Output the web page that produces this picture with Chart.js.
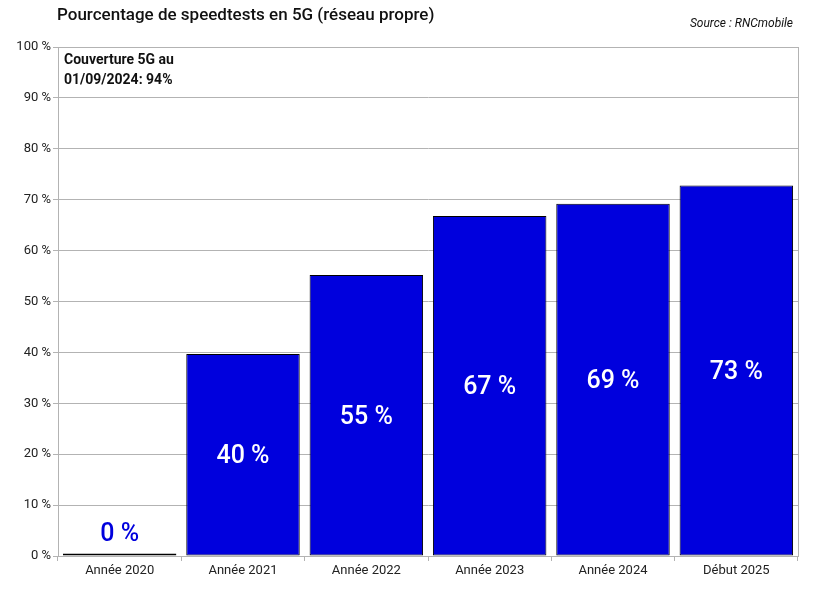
<!DOCTYPE html>
<html>
<head>
<meta charset="utf-8">
<script src="https://cdn.jsdelivr.net/npm/chart.js@4"></script>
<style>
  html, body { margin: 0; padding: 0; background: #fff; }
  #wrap { width: 820px; height: 610px; position: relative; }
</style>
</head>
<body>
<div id="wrap"><canvas id="chart" width="820" height="610"></canvas></div>
<script>
// données
var categories = ['Année 2020', 'Année 2021', 'Année 2022', 'Année 2023', 'Année 2024', 'Début 2025'];
var valeurs = [0.5, 39.7, 55.2, 66.8, 69.2, 72.8];
var etiquettes = ['0 %', '40 %', '55 %', '67 %', '69 %', '73 %'];
var titre = 'Pourcentage de speedtests en 5G (réseau propre)';
var source = 'Source : RNCmobile';
var note = ['Couverture 5G au', '01/09/2024: 94%'];

var bleu = '#0000dd';

// textes, cadre et étiquettes
var decor = {
    id: 'decor',
    beforeDatasetsDraw: function(chart) {
        var ctx = chart.ctx, a = chart.chartArea;
        ctx.save();
        ctx.strokeStyle = '#b3b3b3';
        ctx.lineWidth = 1;
        ctx.strokeRect(a.left + 0.5, a.top + 0.5, a.right - a.left, a.bottom - a.top);
        ctx.restore();
    },
    afterDraw: function(chart) {
        var ctx = chart.ctx, a = chart.chartArea;
        ctx.save();
        ctx.fillStyle = '#111';
        ctx.textBaseline = 'middle';
        ctx.textAlign = 'left';
        ctx.font = '500 17px Roboto';
        ctx.fillText(titre, 57, 16);
        ctx.font = 'italic 12px Roboto';
        ctx.textAlign = 'right';
        ctx.fillText(source, 793, 24);
        ctx.textAlign = 'left';
        ctx.font = 'bold 14px Roboto';
        ctx.fillText(note[0], a.left + 6, 60);
        ctx.fillText(note[1], a.left + 6, 80);

        var meta = chart.getDatasetMeta(0);
        ctx.font = '500 25px Roboto';
        ctx.textAlign = 'center';
        meta.data.forEach(function(bar, i) {
            var y;
            if (valeurs[i] < 5) {
                ctx.fillStyle = bleu;
                y = bar.y - 19;
            } else {
                ctx.fillStyle = '#fff';
                y = (bar.y + bar.base) / 2 + 2;
            }
            ctx.fillText(etiquettes[i], bar.x, y);
        });
        ctx.restore();
    }
};

new Chart(document.getElementById('chart'), {
    type: 'bar',
    data: {
        labels: categories,
        datasets: [{
            data: valeurs,
            backgroundColor: bleu,
            borderColor: '#000',
            borderWidth: 1,
            borderSkipped: false,
            barPercentage: 0.92,
            categoryPercentage: 1
        }]
    },
    options: {
        responsive: false,
        animation: false,
        devicePixelRatio: 1,
        layout: { padding: { left: 0, right: 22, top: 47, bottom: 0 } },
        plugins: {
            legend: { display: false },
            tooltip: { enabled: false }
        },
        scales: {
            x: {
                grid: { offset: true, drawOnChartArea: false, color: '#b3b3b3', tickLength: 5 },
                border: { color: '#b3b3b3' },
                ticks: { color: '#222', font: { family: 'Roboto', size: 13 }, padding: 2, maxRotation: 0 },
                afterFit: function(s) { s.height = 54; }
            },
            y: {
                min: 0,
                max: 100,
                ticks: {
                    stepSize: 10,
                    color: '#222',
                    font: { family: 'Roboto', size: 13 },
                    padding: 2,
                    callback: function(v) { return v + ' %'; }
                },
                grid: { color: '#b3b3b3', tickLength: 5 },
                border: { color: '#b3b3b3' },
                afterFit: function(s) { s.width = 58; }
            }
        }
    },
    plugins: [decor]
});
</script>
</body>
</html>
